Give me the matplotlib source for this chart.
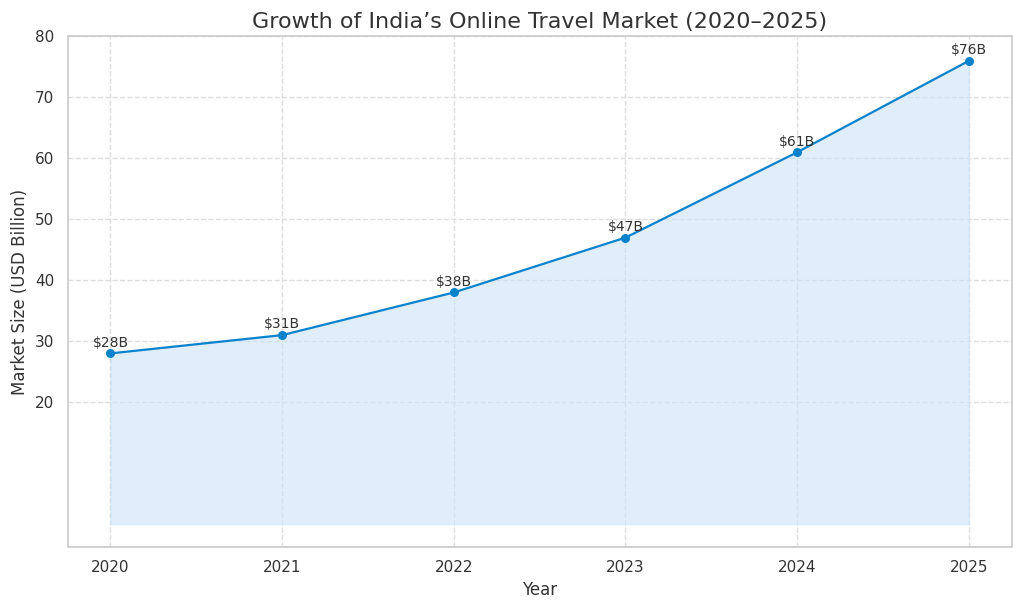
import matplotlib
matplotlib.use("Agg")
import matplotlib.pyplot as plt
import seaborn as sns

years = [2020, 2021, 2022, 2023, 2024, 2025]
market_size = [28, 31, 38, 47, 61, 76]
labels = ["$28B", "$31B", "$38B", "$47B", "$61B", "$76B"]

sns.set_theme(style="whitegrid")
fig, ax = plt.subplots(figsize=(10.24, 6.08), dpi=100)

ax.fill_between(years, market_size, 0, color="#cce4fb", alpha=0.6)
ax.plot(years, market_size, marker="o", color="#0a83cc", linewidth=1.6, markersize=5.5)

for x, y, t in zip(years, market_size, labels):
    ax.text(x, y + 0.6, t, ha="center", va="bottom", fontsize=10, color="#333333")

ax.set_ylim(-3.8, 80)
ax.set_yticks([20, 30, 40, 50, 60, 70, 80])
ax.set_xticks(years)
ax.grid(True, linestyle="--", color="#dddddd")
for s in ax.spines.values():
    s.set_color("#cccccc")

ax.set_title("Growth of India\u2019s Online Travel Market (2020\u20132025)", fontsize=16, color="#333333")
ax.set_xlabel("Year", fontsize=12, color="#333333")
ax.set_ylabel("Market Size (USD Billion)", fontsize=12, color="#333333")
ax.tick_params(labelsize=11, colors="#333333")

fig.subplots_adjust(left=0.066, right=0.988, top=0.94, bottom=0.1)
fig.savefig("out.png", dpi=100)
